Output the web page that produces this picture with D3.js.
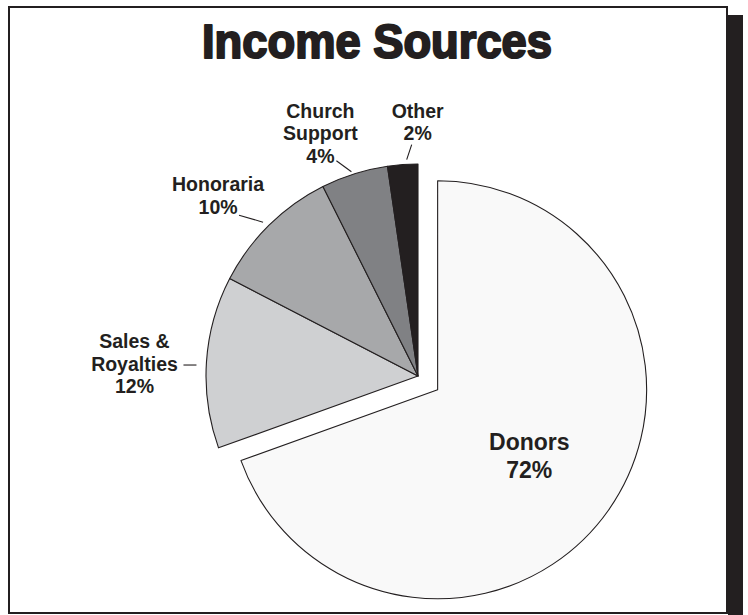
<!DOCTYPE html>
<html>
<head>
<meta charset="utf-8">
<script src="https://cdn.jsdelivr.net/npm/d3@7"></script>
<style>
  html, body { margin: 0; padding: 0; background: #fff; }
  svg { display: block; }
  text { fill: #231f20; font-family: 'Liberation Sans', Arial, sans-serif; font-weight: bold; }
</style>
</head>
<body>
<div id="chart"></div>
<script>
// slice names, the printed percent labels, and the share of the circle each slice is drawn with
const categories = ['Donors', 'Sales & Royalties', 'Honoraria', 'Church Support', 'Other']
const percentLabels = ['72%', '12%', '10%', '4%', '2%']
const drawnShares = [69.5, 13.1, 10.0, 5.1, 2.3]
const sliceColors = ['#f9f9f9', '#cfd0d2', '#a7a8aa', '#808184', '#231f20']

const width = 748
const height = 615
const center = { x: 418, y: 376 }
const radius = 212
const explode = 24

const svg = d3.select('#chart').append('svg')
  .attr('width', width)
  .attr('height', height)

// drop shadow + frame
svg.append('rect')
  .attr('x', 728).attr('y', 15)
  .attr('width', 15).attr('height', height - 15)
  .attr('fill', '#231f20')
svg.append('rect')
  .attr('x', 9).attr('y', 7)
  .attr('width', 718).attr('height', 606)
  .attr('fill', '#fff')
  .attr('stroke', '#231f20')
  .attr('stroke-width', 2)

svg.append('text')
  .attr('x', 377)
  .attr('y', 58)
  .attr('text-anchor', 'middle')
  .attr('textLength', 350)
  .attr('lengthAdjust', 'spacingAndGlyphs')
  .style('font-size', '49px')
  .style('stroke', '#231f20')
  .style('stroke-width', 2.2)
  .style('stroke-linejoin', 'round')
  .text('Income Sources')

const data = categories.map((name, i) => ({ name, pct: percentLabels[i], share: drawnShares[i], color: sliceColors[i] }))

const pie = d3.pie().sort(null).value(d => d.share)
const arcs = pie(data)

const arc = d3.arc().innerRadius(0).outerRadius(radius)
const donorArc = d3.arc().innerRadius(0).outerRadius(radius - 3)

const polar = (angle, r) => [Math.sin(angle) * r, -Math.cos(angle) * r]

const g = svg.append('g')
  .attr('transform', `translate(${center.x},${center.y})`)

g.selectAll('path')
  .data(arcs)
  .join('path')
  .attr('d', (d, i) => i === 0 ? donorArc(d) : arc(d))
  .attr('transform', (d, i) => {
    if (i !== 0) return null
    const mid = (d.startAngle + d.endAngle) / 2
    const [dx, dy] = polar(mid, explode)
    return `translate(${dx},${dy})`
  })
  .attr('fill', d => d.data.color)
  .attr('stroke', '#231f20')
  .attr('stroke-width', 1.1)
  .attr('stroke-linejoin', 'round')

// Donors label inside the exploded slice
const donor = arcs[0]
const donorMid = (donor.startAngle + donor.endAngle) / 2
const [ex, ey] = polar(donorMid, explode)
const [lx, ly] = polar(donorMid, 112)
const donorLabel = g.append('text')
  .attr('text-anchor', 'middle')
  .style('font-size', '23px')
donorLabel.append('tspan').attr('x', ex + lx).attr('y', ey + ly - 4).text(donor.data.name)
donorLabel.append('tspan').attr('x', ex + lx).attr('y', ey + ly + 24).text(donor.data.pct)

// outside labels: offsets from the rim point at each slice's middle angle
const labelLayout = [
  null,
  { lines: ['Sales &', 'Royalties', '12%'], tx: -72, ty: -14, lead: [[-23, 3], [-10, 3]] },
  { lines: ['Honoraria', '10%'], tx: -51, ty: -34, lead: [[-30, -10], [-6, -3]] },
  { lines: ['Church', 'Support', '4%'], tx: -34, ty: -56, lead: [[-18, -13], [-3, -2]] },
  { lines: ['Other', '2%'], tx: 15, ty: -47, lead: [[9, -20], [4, -5]] }
]

arcs.forEach((d, i) => {
  const lay = labelLayout[i]
  if (!lay) return
  const mid = (d.startAngle + d.endAngle) / 2
  const [px, py] = polar(mid, radius)
  const lines = lay.lines.slice(0, -1).concat([d.data.pct])
  const t = g.append('text')
    .attr('text-anchor', 'middle')
    .style('font-size', '19.5px')
  lines.forEach((line, k) => {
    t.append('tspan')
      .attr('x', px + lay.tx)
      .attr('y', py + lay.ty + k * 22.5)
      .text(line)
  })
  g.append('line')
    .attr('x1', px + lay.lead[0][0]).attr('y1', py + lay.lead[0][1])
    .attr('x2', px + lay.lead[1][0]).attr('y2', py + lay.lead[1][1])
    .attr('stroke', '#231f20')
    .attr('stroke-width', 1.1)
})
</script>
</body>
</html>
